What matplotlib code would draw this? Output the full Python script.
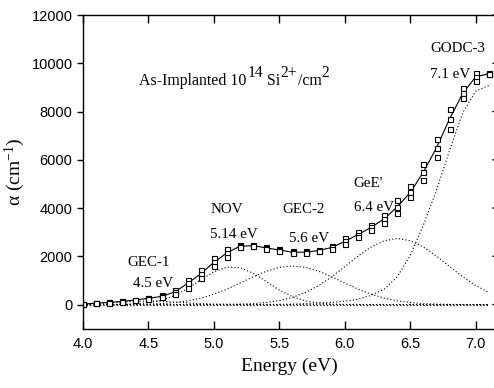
import matplotlib
matplotlib.use('Agg')
import matplotlib.pyplot as plt
from matplotlib.transforms import offset_copy

plt.rcParams['mathtext.fontset'] = 'custom'
plt.rcParams['mathtext.rm'] = 'Liberation Serif'
plt.rcParams['mathtext.it'] = 'Liberation Serif:italic'

# photon energy (eV), one column of squares every 0.1 eV
energy = [4.0, 4.1, 4.2, 4.3, 4.4, 4.5, 4.6, 4.7, 4.8, 4.9,
          5.0, 5.1, 5.2, 5.3, 5.4, 5.5, 5.6, 5.7, 5.8, 5.9,
          6.0, 6.1, 6.2, 6.3, 6.4, 6.5, 6.6, 6.7, 6.8, 6.9,
          7.0, 7.1]

# measured absorption (cm^-1), three repeated scans
run_a = [30, 70, 100, 140, 200, 280, 380, 600, 1000, 1450,
         1920, 2300, 2480, 2470, 2380, 2290, 2200, 2200, 2270, 2430,
         2750, 3000, 3300, 3700, 4320, 4920, 5820, 6880, 8120, 8960,
         9610, 9580]
run_b = [20, 60, 90, 130, 190, 260, 340, 520, 880, 1280,
         1750, 2150, 2420, 2440, 2350, 2260, 2170, 2170, 2240, 2370,
         2620, 2900, 3200, 3550, 4050, 4650, 5500, 6500, 7700, 8750,
         9450, 9560]
run_c = [10, 55, 85, 125, 180, 245, 310, 450, 700, 1100,
         1600, 1980, 2380, 2410, 2320, 2230, 2140, 2150, 2210, 2320,
         2500, 2800, 3100, 3400, 3800, 4440, 5170, 6130, 7270, 8550,
         9280, 9540]

# fitted gaussian bands
gec1 = [20, 40, 70, 105, 135, 150, 135, 105, 70, 40,
        20, 10, 4, 0, 0, 0, 0, 0, 0, 0,
        0, 0, 0, 0, 0, 0, 0, 0, 0, 0,
        0, 0]
nov = [0, 1, 2, 9, 27, 76, 182, 375, 667, 1025,
       1358, 1551, 1529, 1299, 952, 602, 328, 154, 63, 22,
       7, 2, 0, 0, 0, 0, 0, 0, 0, 0,
       0, 0]
gec2 = [0, 1, 2, 5, 10, 19, 42, 83, 155, 268,
        430, 643, 892, 1152, 1383, 1543, 1600, 1543, 1383, 1152,
        892, 643, 430, 268, 155, 83, 42, 19, 8, 3,
        1, 0]
gee = [0, 0, 0, 1, 1, 2, 2, 3, 3, 3,
       3, 8, 19, 42, 86, 166, 299, 503, 788, 1154,
       1575, 2008, 2386, 2647, 2740, 2647, 2386, 2008, 1575, 1154,
       788, 503]
godc3 = [0, 0, 0, 0, 0, 0, 0, 0, 0, 0,
         0, 0, 0, 2, 5, 10, 20, 40, 70, 90,
         140, 220, 380, 640, 1150, 2050, 3300, 4750, 6400, 7950,
         8850, 9080]

labels = [
    ('GEC-1', 4.50, 1610), ('4.5 eV', 4.535, 710),
    ('NOV', 5.10, 3790), ('5.14 eV', 5.15, 2760),
    ('GEC-2', 5.685, 3790), ('5.6 eV', 5.73, 2600),
    ("GeE'", 6.18, 4870), ('6.4 eV', 6.22, 3870),
    ('GODC-3', 6.86, 10460), ('7.1 eV', 6.80, 9390),
]

# title pieces: (text, superscript?)
title_parts = [('As-Implanted 10', False), ('14', True), (' Si', False),
               ('2+', True), ('/cm', False), ('2', True)]

fig = plt.figure(figsize=(4.94, 3.88), dpi=100)
ax = fig.add_axes([0.168, 0.1528, 0.835, 0.8085])

dots = dict(color='black', lw=0.8, ls=(0, (1, 2)))
ax.plot([energy[0], energy[-1]], [0, 0], **dots)
for band in [gec1, nov, gec2, gee, godc3]:
    ax.plot(energy, band, **dots)

ax.plot(energy, run_b, color='black', lw=0.8)
for run in [run_a, run_b, run_c]:
    ax.plot(energy, run, ls='none', marker='s', ms=3.6, mfc='white',
            mec='black', mew=0.8)

serif = ['Liberation Serif', 'DejaVu Serif']
for txt, xx, yy in labels:
    ax.text(xx, yy, txt, ha='center', va='baseline', fontsize=10.8, family=serif)

# title built piece by piece so the superscripts stay large
renderer = fig.canvas.get_renderer()
dx = 0.0
for txt, sup in title_parts:
    tr = offset_copy(ax.transData, fig=fig, x=dx, y=6 if sup else 0, units='points')
    t = ax.text(4.43, 9100, txt, transform=tr, ha='left', va='baseline',
                fontsize=11.2 if sup else 11.4, family=serif)
    dx += t.get_window_extent(renderer).width * 72 / fig.dpi + 0.3

ax.set_xlim(4.0, 7.15)
ax.set_ylim(-1000, 12000)
ax.set_xticks([4.0, 4.5, 5.0, 5.5, 6.0, 6.5, 7.0])
ax.set_yticks(range(0, 12001, 2000))
ax.set_xticklabels(['4.0', '4.5', '5.0', '5.5', '6.0', '6.5', '7.0'])

for lab in ax.get_xticklabels() + ax.get_yticklabels():
    lab.set_family(['Liberation Sans', 'DejaVu Sans'])
    lab.set_fontsize(10.5)

ax.tick_params(axis='x', direction='in', length=5.5, width=1, top=True, pad=6)
ax.tick_params(axis='y', which='both', left=True, right=False, direction='out',
               length=4.5, width=1, pad=3)
for yv in range(0, 12001, 2000):
    ax.annotate('', xy=(7.15, yv), xytext=(7.13, yv),
                arrowprops=dict(arrowstyle='-', lw=1, color='black'))
for s in ax.spines.values():
    s.set_linewidth(1.0)

ax.set_xlabel('Energy (eV)', fontsize=14, family=serif, labelpad=5)
ax.set_ylabel('α (cm$^{\\mathrm{-1}}$)', fontsize=14, family=serif, labelpad=3)

fig.savefig('out.png', dpi=100)
